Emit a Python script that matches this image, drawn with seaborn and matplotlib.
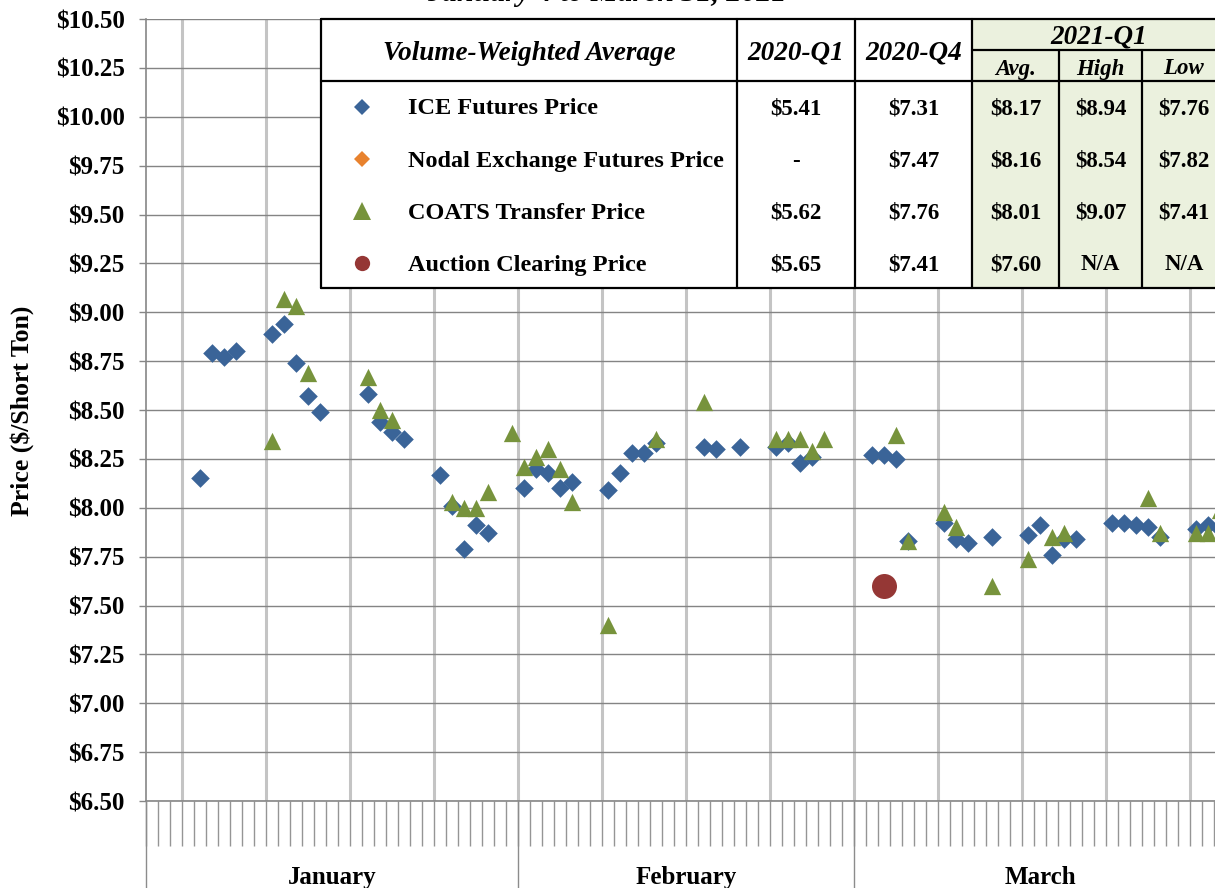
import pandas as pd
import matplotlib
matplotlib.use("Agg")
import matplotlib.pyplot as plt
import matplotlib.transforms as mtransforms
from matplotlib.lines import Line2D
from matplotlib.patches import Rectangle
import seaborn as sns


# ICE futures, volume-weighted daily settlement ($/short ton)
ice_dates = ["2021-01-05", "2021-01-06", "2021-01-07", "2021-01-08", "2021-01-11", "2021-01-12",
             "2021-01-13", "2021-01-14", "2021-01-15", "2021-01-19", "2021-01-20", "2021-01-21",
             "2021-01-22", "2021-01-25", "2021-01-26", "2021-01-27", "2021-01-28", "2021-01-29",
             "2021-02-01", "2021-02-02", "2021-02-03", "2021-02-04", "2021-02-05", "2021-02-08",
             "2021-02-09", "2021-02-10", "2021-02-11", "2021-02-12", "2021-02-16", "2021-02-17",
             "2021-02-19", "2021-02-22", "2021-02-23", "2021-02-24", "2021-02-25",
             "2021-03-02", "2021-03-03", "2021-03-04", "2021-03-05", "2021-03-08", "2021-03-09",
             "2021-03-10", "2021-03-12", "2021-03-15", "2021-03-16", "2021-03-17", "2021-03-18",
             "2021-03-19", "2021-03-22", "2021-03-23", "2021-03-24", "2021-03-25", "2021-03-26",
             "2021-03-29", "2021-03-30", "2021-03-31"]
ice_prices = [8.15, 8.79, 8.77, 8.80, 8.89, 8.94, 8.74, 8.57, 8.49, 8.58, 8.44, 8.39,
              8.35, 8.17, 8.01, 7.79, 7.91, 7.87,
              8.10, 8.20, 8.18, 8.10, 8.13, 8.09, 8.18, 8.28, 8.28, 8.33, 8.31, 8.30,
              8.31, 8.31, 8.33, 8.23, 8.26,
              8.27, 8.27, 8.25, 7.83, 7.92, 7.84, 7.82, 7.85, 7.86, 7.91, 7.76, 7.84,
              7.84, 7.92, 7.92, 7.91, 7.90, 7.85, 7.89, 7.91, 7.89]

coats_dates = ["2021-01-11", "2021-01-12", "2021-01-13", "2021-01-14", "2021-01-19", "2021-01-20",
               "2021-01-21", "2021-01-26", "2021-01-27", "2021-01-28", "2021-01-29", "2021-01-31",
               "2021-02-01", "2021-02-02", "2021-02-03", "2021-02-04", "2021-02-05", "2021-02-08",
               "2021-02-12", "2021-02-16", "2021-02-22", "2021-02-23", "2021-02-24", "2021-02-25",
               "2021-02-26",
               "2021-03-04", "2021-03-05", "2021-03-08", "2021-03-09", "2021-03-12", "2021-03-15",
               "2021-03-17", "2021-03-18", "2021-03-25", "2021-03-26", "2021-03-29", "2021-03-30",
               "2021-03-31"]
coats_prices = [8.34, 9.07, 9.03, 8.69, 8.67, 8.50, 8.45, 8.03, 8.00, 8.00, 8.08, 8.38,
                8.21, 8.26, 8.30, 8.20, 8.03, 7.40, 8.35, 8.54, 8.35, 8.35, 8.35, 8.29, 8.35,
                8.37, 7.83, 7.98, 7.90, 7.60, 7.74, 7.85, 7.87, 8.05, 7.87, 7.87, 7.87, 7.99]

auction_dates = ["2021-03-03"]
auction_prices = [7.60]

months = ["January", "February", "March"]
month_days = [31, 28, 31]

table_series = ["ICE Futures Price", "Nodal Exchange Futures Price",
                "COATS Transfer Price", "Auction Clearing Price"]
q1_2020 = ["$5.41", "-", "$5.62", "$5.65"]
q4_2020 = ["$7.31", "$7.47", "$7.76", "$7.41"]
avg_2021 = ["$8.17", "$8.16", "$8.01", "$7.60"]
high_2021 = ["$8.94", "$8.54", "$9.07", "N/A"]
low_2021 = ["$7.76", "$7.82", "$7.41", "N/A"]

BLUE = "#3A6498"
ORANGE = "#E8822E"
GREEN = "#77933C"
RED = "#953735"
AXIS_GRAY = "#868686"


def to_frame(dates, prices):
    df = pd.DataFrame({"date": pd.to_datetime(dates), "price": prices})
    df["day"] = df["date"].dt.dayofyear
    return df


ice = to_frame(ice_dates, ice_prices)
coats = to_frame(coats_dates, coats_prices)
auction = to_frame(auction_dates, auction_prices)

sns.set_style("white")
plt.rcParams["font.family"] = ["Liberation Serif", "DejaVu Serif"]
plt.rcParams["font.weight"] = "bold"
plt.rcParams["text.color"] = "black"

W, H = 1215, 888


def fx(x):
    return x / W


def fy(y):
    return 1 - y / H


fig = plt.figure(figsize=(W / 100, H / 100), dpi=100)
# axes run past the right edge, the reference is cropped there
ax = fig.add_axes([fx(146), fy(801), 1080 / W, 782 / H])

sns.scatterplot(data=ice, x="day", y="price", marker="D", s=90, color=BLUE,
                linewidth=0, ax=ax, zorder=3, legend=False)
sns.scatterplot(data=coats, x="day", y="price", marker="^", s=155, color=GREEN,
                linewidth=0, ax=ax, zorder=4, legend=False)
sns.scatterplot(data=auction, x="day", y="price", marker="o", s=324, color=RED,
                linewidth=0, ax=ax, zorder=5, legend=False)

ax.set_xlim(0.5, 90.5)
ax.set_ylim(6.5, 10.5)
ax.set_xlabel("")
ax.set_ylabel("")

ax.set_xticks([3.5 + 7 * k for k in range(13)])
ax.set_xticks([0.5 + k for k in range(91)], minor=True)
ax.set_yticks([6.5 + 0.25 * k for k in range(17)])
ax.set_yticklabels([f"${v:.2f}" for v in ax.get_yticks()], fontsize=18, fontweight="bold")

ax.grid(axis="x", which="major", color="#C4C4C4", linewidth=2.2)
ax.grid(axis="y", which="major", color="#848484", linewidth=1.0)
ax.set_axisbelow(True)

ax.tick_params(axis="x", which="both", bottom=True, direction="out", length=32.5, width=1.0,
               color="#959595", labelbottom=False)
ax.tick_params(axis="y", which="major", left=True, direction="out", length=5, width=1.0,
               color=AXIS_GRAY, pad=10.4, labelcolor="black")

for side in ["top", "right"]:
    ax.spines[side].set_visible(False)
for side in ["left", "bottom"]:
    ax.spines[side].set_color(AXIS_GRAY)
    ax.spines[side].set_linewidth(1.2)

# month separators and month names under the day ticks
trans = mtransforms.blended_transform_factory(ax.transData, fig.transFigure)
start = 0.5
for name, n in zip(months, month_days):
    fig.add_artist(Line2D([start, start], [fy(801), 0], transform=trans,
                          color="#8C8C8C", linewidth=1.0))
    ax.text(start + n / 2, fy(877), name, transform=trans, ha="center", va="center",
            fontsize=18, fontweight="bold", color="black", clip_on=False)
    start += n

fig.text(fx(22), fy(411), "Price ($/Short Ton)", rotation=90, ha="center", va="center",
         fontsize=18.5, fontweight="bold")
fig.text(fx(607), fy(1), "January 4 to March 31, 2021", ha="center", va="baseline",
         fontsize=21.5, fontweight="bold", style="italic")

# summary table laid over the plot area
cols = [321, 737, 855, 972, 1059, 1142, 1226]
top, sub, head, bottom = 19, 50, 81, 288
fig.add_artist(Rectangle((fx(cols[0]), fy(bottom)), fx(cols[3]) - fx(cols[0]),
                         fy(top) - fy(bottom), facecolor="white", edgecolor="none", zorder=5))
fig.add_artist(Rectangle((fx(cols[3]), fy(bottom)), fx(cols[6]) - fx(cols[3]),
                         fy(top) - fy(bottom), facecolor="#EBF1DE", edgecolor="none", zorder=5))


def hline(y, x0, x1):
    fig.add_artist(Line2D([fx(x0), fx(x1)], [fy(y), fy(y)], color="black", linewidth=1.6, zorder=6))


def vline(x, y0, y1):
    fig.add_artist(Line2D([fx(x), fx(x)], [fy(y0), fy(y1)], color="black", linewidth=1.6, zorder=6))


hline(top, cols[0], cols[6])
hline(bottom, cols[0], cols[6])
hline(head, cols[0], cols[6])
hline(sub, cols[3], cols[6])
for c in cols[:4]:
    vline(c, top, bottom)
for c in cols[4:6]:
    vline(c, sub, bottom)
vline(cols[6], top, bottom)

hdr = dict(ha="center", va="center", fontweight="bold", style="italic", zorder=7)
fig.text(fx((cols[0] + cols[1]) / 2), fy(53), "Volume-Weighted Average", fontsize=19.5, **hdr)
fig.text(fx((cols[1] + cols[2]) / 2), fy(53), "2020-Q1", fontsize=19.5, **hdr)
fig.text(fx((cols[2] + cols[3]) / 2), fy(53), "2020-Q4", fontsize=19.5, **hdr)
fig.text(fx((cols[3] + cols[6]) / 2), fy(37), "2021-Q1", fontsize=19.5, **hdr)
fig.text(fx((cols[3] + cols[4]) / 2), fy(69), "Avg.", fontsize=16.5, **hdr)
fig.text(fx((cols[4] + cols[5]) / 2), fy(69), "High", fontsize=16.5, **hdr)
fig.text(fx((cols[5] + cols[6]) / 2), fy(69), "Low", fontsize=16.5, **hdr)

legend_marks = [("D", BLUE, 8.0), ("D", ORANGE, 8.0), ("^", GREEN, 12.5), ("o", RED, 11)]
for i, label in enumerate(table_series):
    yc = fy(109 + 52 * i)
    m, c, ms = legend_marks[i]
    fig.add_artist(Line2D([fx(362)], [fy(107 + 52 * i)], marker=m, color=c, markersize=ms,
                          markeredgewidth=0, linestyle="none", zorder=7))
    fig.text(fx(408), yc, label, ha="left", va="center", fontsize=17.5, fontweight="bold", zorder=7)
    row = [q1_2020[i], q4_2020[i], avg_2021[i], high_2021[i], low_2021[i]]
    for j, val in enumerate(row):
        xc = (cols[j + 1] + cols[j + 2]) / 2
        fig.text(fx(xc), yc, val, ha="center", va="center", fontsize=16.5,
                 fontweight="bold", zorder=7)

fig.savefig("out.png", dpi=100)
plt.close(fig)
